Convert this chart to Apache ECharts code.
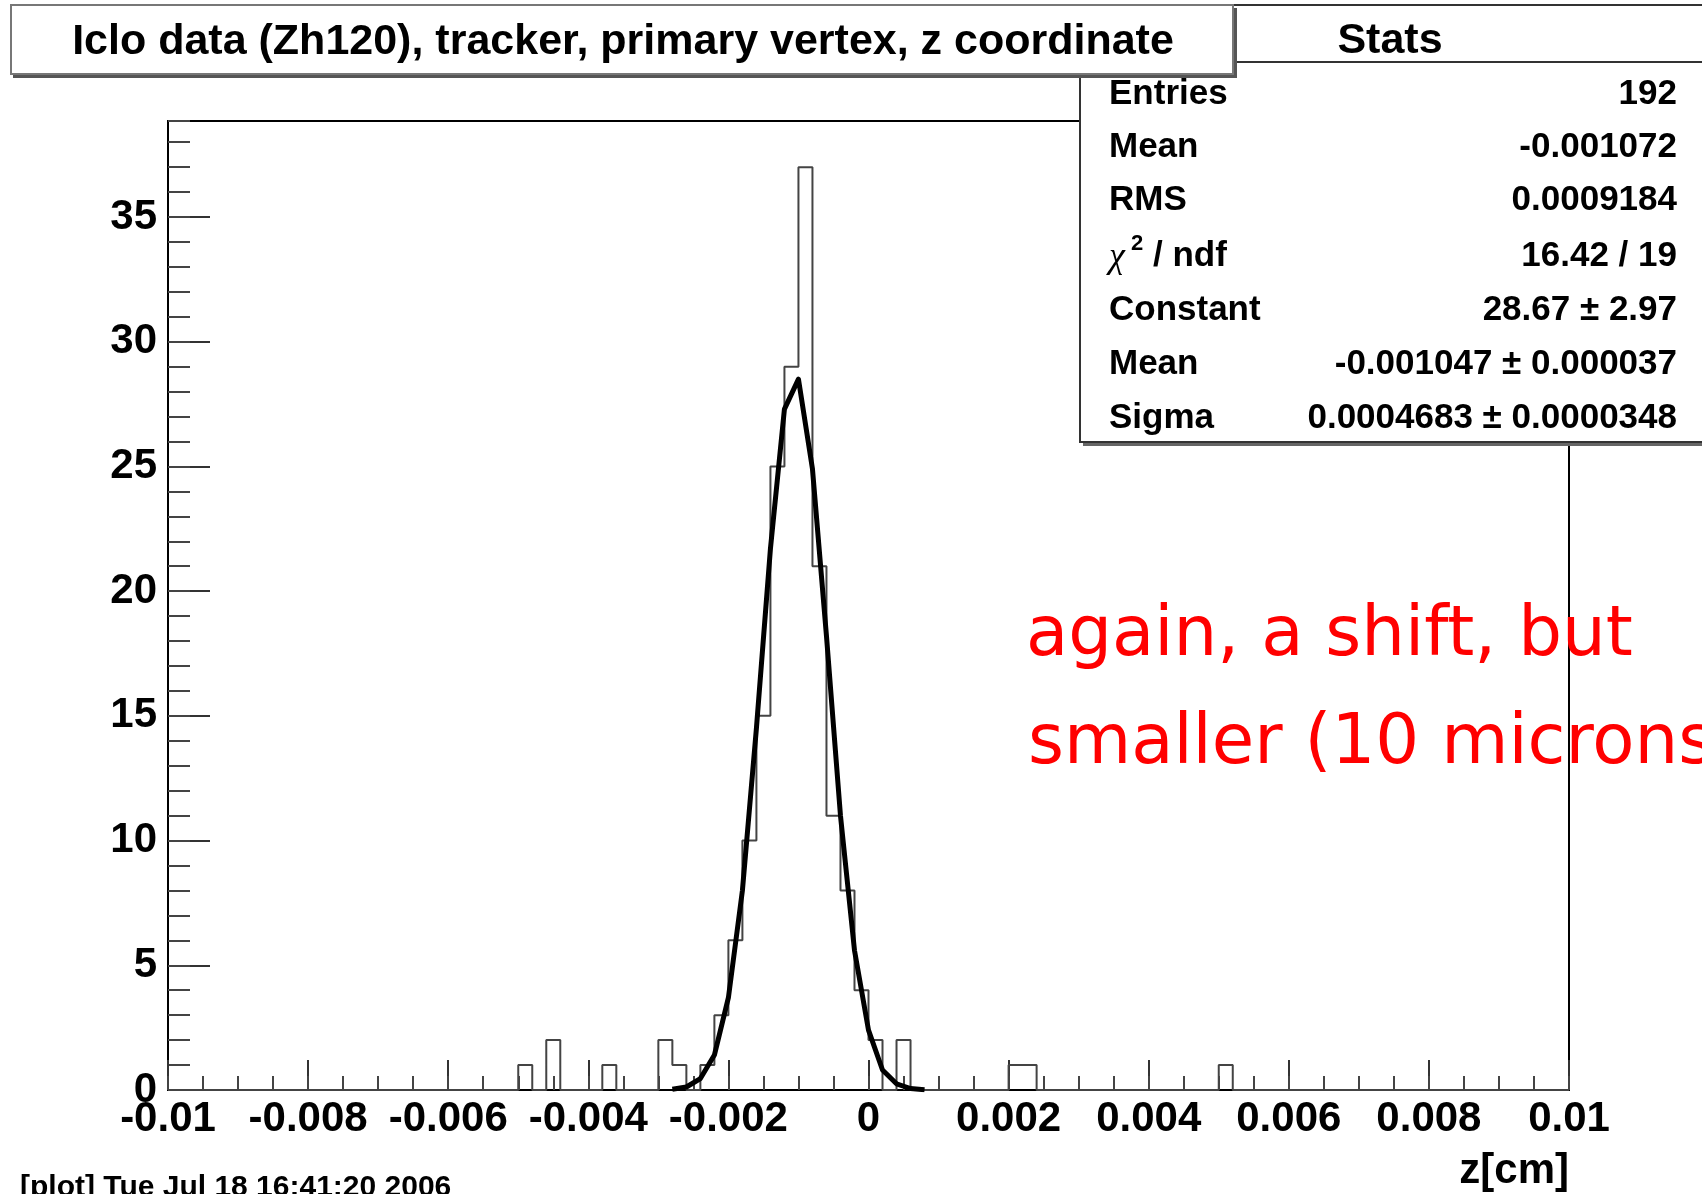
<!DOCTYPE html>
<html><head><meta charset="utf-8">
<script src="https://cdn.jsdelivr.net/npm/echarts@6/dist/echarts.min.js"></script>
<style>html,body{margin:0;padding:0;background:#fff;overflow:hidden}#c{width:1702px;height:1194px}</style>
</head><body><div id="c"></div>
<script>
// ---------------- data ----------------
const xRange = [-0.01, 0.01];
const nBins = 100;
const counts = [
  0,0,0,0,0,0,0,0,0,0,
  0,0,0,0,0,0,0,0,0,0,
  0,0,0,0,0,1,0,2,0,0,
  0,1,0,0,0,2,1,0,1,3,
  6,10,15,25,29,37,21,11,8,4,
  2,0,2,0,0,0,0,0,0,0,
  1,1,0,0,0,0,0,0,0,0,
  0,0,0,0,0,1,0,0,0,0,
  0,0,0,0,0,0,0,0,0,0,
  0,0,0,0,0,0,0,0,0,0
];
const fitX = [-0.0028,-0.0026,-0.0024,-0.0022,-0.0020,-0.0018,-0.0016,-0.0014,-0.0012,-0.0010,
              -0.0008,-0.0006,-0.0004,-0.0002,0.0000,0.0002,0.0004,0.0006,0.0008];
const fitY = [0.03,0.12,0.46,1.4,3.7,8.0,14.5,21.7,27.3,28.5,
              24.9,18.2,11.0,5.6,2.4,0.8,0.25,0.06,0.01];
const xTickLabels = ['-0.01','-0.008','-0.006','-0.004','-0.002','0','0.002','0.004','0.006','0.008','0.01'];
const yTickLabels = ['0','5','10','15','20','25','30','35'];
const yMax = 38.85;
const titleText = 'Iclo data (Zh120), tracker, primary vertex, z coordinate';
const statsTitle = 'Stats';
const statsLabels = ['Entries','Mean','RMS','CHI','Constant','Mean','Sigma'];
const statsValues = ['192','-0.001072','0.0009184','16.42 / 19','28.67 \u00b1 2.97','-0.001047 \u00b1 0.000037','0.0004683 \u00b1 0.0000348'];
const noteLines = ['again, a shift, but', 'smaller (10 microns)'];
const footerText = '[plot] Tue Jul 18 16:41:20 2006';
const xTitle = 'z[cm]';

// ---------------- build ----------------
const F = '"Liberation Sans", Arial, Helvetica, sans-serif';
const binW = (xRange[1] - xRange[0]) / nBins;
const histData = counts.map((c, i) => [xRange[0] + i * binW, c]);
histData.push([xRange[1], counts[nBins - 1]]);
const fitData = fitX.map((x, i) => [x, fitY[i]]);

const chart = echarts.init(document.getElementById('c'), null, {renderer: 'canvas'});

function txt(x, y, text, font, align, vAlign, fill, z) {
  return {type: 'text', x: x, y: y, z: z || 120, silent: true,
    style: {text: text, font: font, fill: fill || '#000',
      align: align, textAlign: align, verticalAlign: vAlign, textVerticalAlign: vAlign}};
}

const rowY = [94, 147, 200, 256, 310, 364, 418];
const graphics = [];
// stats box
graphics.push({type: 'rect', z: 100, silent: true, shape: {x: 1083, y: 8, width: 700, height: 438}, style: {fill: '#666'}});
graphics.push({type: 'rect', z: 101, silent: true, shape: {x: 1080, y: 5, width: 700, height: 437}, style: {fill: '#fff', stroke: '#333', lineWidth: 2}});
graphics.push({type: 'line', z: 102, silent: true, shape: {x1: 1080, y1: 62, x2: 1702, y2: 62}, style: {stroke: '#333', lineWidth: 2}});
graphics.push(txt(1390, 41, statsTitle, 'bold 43px ' + F, 'center', 'middle'));
statsLabels.forEach((l, i) => {
  if (l === 'CHI') {
    graphics.push(txt(1109, rowY[i] + 2, '\u03c7', 'italic 36px "Liberation Serif", serif', 'left', 'middle'));
    graphics.push(txt(1131, rowY[i] - 12, '2', 'bold 22px ' + F, 'left', 'middle'));
    graphics.push(txt(1153, rowY[i], '/ ndf', 'bold 35px ' + F, 'left', 'middle'));
  } else {
    graphics.push(txt(1109, rowY[i], l, 'bold 35px ' + F, 'left', 'middle'));
  }
  graphics.push(txt(1677, rowY[i], statsValues[i], 'bold 35px ' + F, 'right', 'middle'));
});
// title box
graphics.push({type: 'rect', z: 110, silent: true, shape: {x: 13, y: 8, width: 1224, height: 70}, style: {fill: '#555'}});
graphics.push({type: 'rect', z: 111, silent: true, shape: {x: 11, y: 5, width: 1222, height: 69}, style: {fill: '#fff', stroke: '#777', lineWidth: 2}});
graphics.push(txt(623, 42, titleText, 'bold 43px ' + F, 'center', 'middle', '#000', 115));
// annotation
graphics.push(txt(1026, 637, noteLines[0], '69px "DejaVu Sans", sans-serif', 'left', 'middle', '#ff0000', 90));
graphics.push(txt(1028, 745, noteLines[1], '69px "DejaVu Sans", sans-serif', 'left', 'middle', '#ff0000', 90));
// footer and axis title
graphics.push(txt(20, 1188, footerText, 'bold 30px ' + F, 'left', 'middle'));
graphics.push(txt(1569, 1171, xTitle, 'bold 42px ' + F, 'right', 'middle'));

const labelFont = {fontFamily: F, fontWeight: 'bold', fontSize: 42, color: '#000'};

const option = {
  animation: false,
  backgroundColor: '#fff',
  grid: {left: 168, right: 133, top: 121, bottom: 104, show: true, borderColor: '#000', borderWidth: 2,
         backgroundColor: 'transparent', containLabel: false, outerBoundsMode: 'none'},
  xAxis: [
    {type: 'value', position: 'bottom', min: xRange[0], max: xRange[1], interval: 0.002,
     axisLine: {show: true, onZero: false, lineStyle: {color: '#000', width: 2}},
     axisTick: {show: true, inside: true, length: 30, lineStyle: {color: '#333', width: 2}},
     minorTick: {show: false},
     splitLine: {show: false},
     axisLabel: Object.assign({margin: 8, formatter: v => xTickLabels[Math.round((v - xRange[0]) / 0.002)]}, labelFont)},
    {type: 'value', position: 'bottom', min: xRange[0], max: xRange[1], interval: 0.0005,
     axisLine: {show: false, onZero: false}, axisLabel: {show: false}, splitLine: {show: false},
     axisTick: {show: true, inside: true, length: 14, lineStyle: {color: '#444', width: 2}}}
  ],
  yAxis: [
    {type: 'value', position: 'left', min: 0, max: yMax, interval: 5,
     axisLine: {show: true, onZero: false, lineStyle: {color: '#000', width: 2}},
     axisTick: {show: true, inside: true, length: 42, lineStyle: {color: '#333', width: 2}},
     splitLine: {show: false},
     axisLabel: Object.assign({margin: 11, showMaxLabel: false,
        formatter: v => { const k = Math.round(v / 5); return (Math.abs(v - k * 5) < 1e-6 && yTickLabels[k] !== undefined) ? yTickLabels[k] : ''; }}, labelFont)},
    {type: 'value', position: 'left', min: 0, max: yMax, interval: 1,
     axisLine: {show: false, onZero: false}, axisLabel: {show: false}, splitLine: {show: false},
     axisTick: {show: true, inside: true, length: 22, lineStyle: {color: '#444', width: 2}}}
  ],
  series: [
    {type: 'line', name: 'hist', xAxisIndex: 0, yAxisIndex: 0, step: 'end', data: histData,
     showSymbol: false, symbol: 'none', silent: true, z: 2,
     lineStyle: {color: '#444', width: 2}},
    {type: 'line', name: 'fit', xAxisIndex: 0, yAxisIndex: 0, data: fitData, smooth: false,
     showSymbol: false, symbol: 'none', silent: true, z: 3,
     lineStyle: {color: '#000', width: 5, join: 'round'}}
  ],
  graphic: {elements: graphics}
};
chart.setOption(option);
</script>
</body></html>
